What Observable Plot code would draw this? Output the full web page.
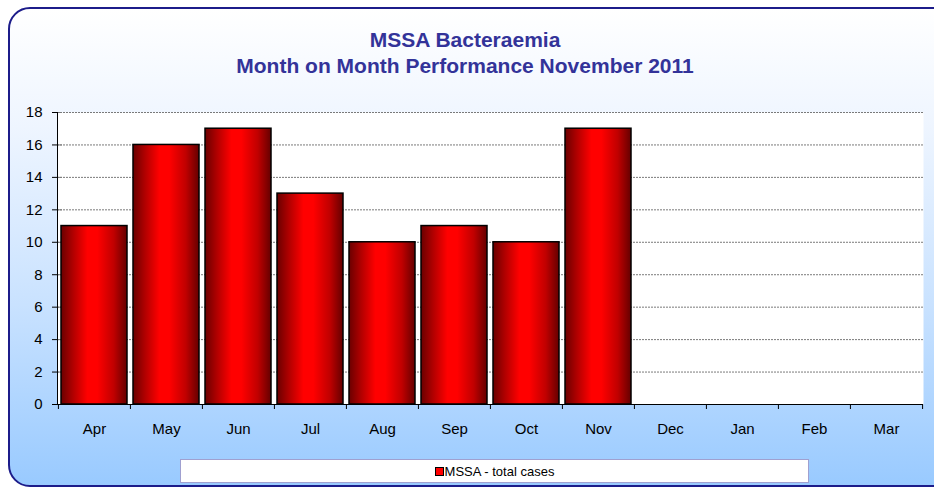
<!DOCTYPE html>
<html>
<head>
<meta charset="utf-8">
<script src="https://cdn.jsdelivr.net/npm/d3@7"></script>
<script src="https://cdn.jsdelivr.net/npm/@observablehq/plot@0.6"></script>
<style>
  html, body { margin: 0; padding: 0; width: 934px; height: 488px; overflow: hidden; background: #fff; }
  body { font-family: "Liberation Sans", Arial, sans-serif; position: relative; }
  #frame {
    position: absolute; left: 8px; top: 7px; width: 960px; height: 476px;
    border: 2px solid #1c1c8a; border-radius: 22px;
    background: linear-gradient(to bottom, #ffffff 0%, #eef5ff 25%, #c9e2ff 62%, #99caff 100%);
  }
  #title {
    position: absolute; left: 0; top: 27px; width: 930px; text-align: center;
    color: #333399; font-weight: bold; font-size: 21px; line-height: 26px;
  }
  #chart { position: absolute; left: 0; top: 100px; }
  #legend {
    position: absolute; left: 180px; top: 459px; width: 629px; height: 24px;
    background: #fff; border: 1px solid #a0a0d0; box-sizing: border-box;
    display: flex; align-items: center; justify-content: center; font-size: 13px; color: #000;
  }
  #legend .sw { display: inline-block; width: 7px; height: 7px; background: #f00; border: 1.5px solid #000; margin-right: 1px; }
</style>
</head>
<body>
<div id="frame"></div>
<div id="title">MSSA Bacteraemia<br>Month on Month Performance November 2011</div>
<div id="chart"></div>
<div id="legend"><span class="sw"></span><span id="legtext"></span></div>
<script>
const months = ["Apr","May","Jun","Jul","Aug","Sep","Oct","Nov","Dec","Jan","Feb","Mar"];
const totalCases = [11,16,17,13,10,11,10,17,null,null,null,null];
const yTicks = [0,2,4,6,8,10,12,14,16,18];
const seriesName = "MSSA - total cases";

document.getElementById("legtext").textContent = seriesName;

const data = months.map((m, i) => ({month: m, value: totalCases[i]}));

const W = 934, H = 345, mL = 57, mR = 11, mT = 12, mB = 41;
const step = (W - mL - mR) / months.length;

const chart = Plot.plot({
  width: W, height: H,
  marginLeft: mL, marginRight: mR, marginTop: mT, marginBottom: mB,
  style: {background: "transparent", fontFamily: "'Liberation Sans', Arial, sans-serif", fontSize: "15px", color: "#000", overflow: "visible"},
  x: {domain: months, paddingInner: 0.08, paddingOuter: 0.04, label: null},
  y: {domain: [0, 18], label: null},
  marks: [
    Plot.frame({fill: "white", stroke: null}),
    Plot.gridY(yTicks.filter(d => d > 0), {stroke: "#7a7a7a", strokeOpacity: 1, strokeDasharray: "2,1", strokeWidth: 1}),
    Plot.axisY({ticks: yTicks, tickSize: 5, tickPadding: 10, fontSize: 15, stroke: "#000", label: null}),
    Plot.axisY({ticks: yTicks.filter(d => d > 0), tickSize: 5, text: null, stroke: "#7a7a7a", dx: 5, tickPadding: 0}),
    Plot.barY(data, {x: "month", y: "value", fill: "url(#redGrad)", stroke: "#000", strokeWidth: 1.5}),
    Plot.ruleY([0], {stroke: "#000", strokeWidth: 1}),
    Plot.frame({anchor: "left", stroke: "#000", strokeWidth: 1}),
    Plot.axisX({tickSize: 0, tickPadding: 19, fontSize: 15, label: null}),
    Plot.axisX({tickSize: 5, text: null, dx: -step / 2, stroke: "#000"}),
    Plot.axisX([months[months.length - 1]], {tickSize: 5, text: null, dx: step / 2, stroke: "#000"})
  ]
});

const svg = d3.select(chart);
const defs = svg.insert("defs", ":first-child");
const grad = defs.append("linearGradient").attr("id", "redGrad").attr("x1", "0%").attr("x2", "100%").attr("y1", "0%").attr("y2", "0%");
[["0%", "#6a0000"], ["18%", "#b00000"], ["40%", "#ff0000"], ["55%", "#ff0000"], ["80%", "#c00000"], ["100%", "#650000"]]
  .forEach(([o, c]) => grad.append("stop").attr("offset", o).attr("stop-color", c));

document.getElementById("chart").appendChild(chart);
</script>
</body>
</html>
